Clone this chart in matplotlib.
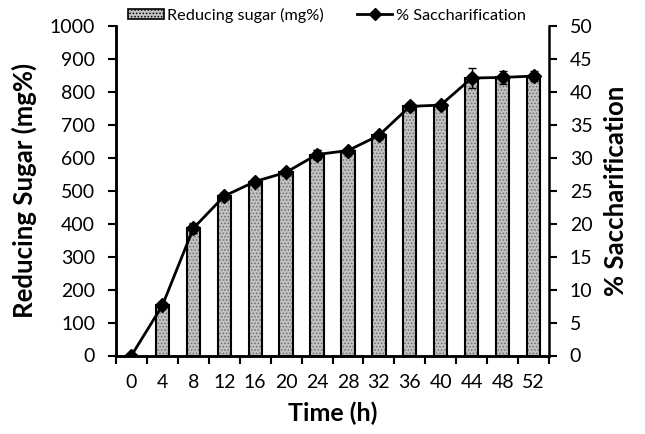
import matplotlib.pyplot as plt
import numpy as np
from matplotlib.patches import Patch
from matplotlib.lines import Line2D

plt.rcParams['font.family'] = ['Lato', 'DejaVu Sans']
plt.rcParams['hatch.linewidth'] = 0.7

# Data
time_h = [0, 4, 8, 12, 16, 20, 24, 28, 32, 36, 40, 44, 48, 52]
sugar = [0, 152, 387, 483, 528, 557, 610, 622, 668, 756, 760, 842, 845, 848]
sugar_err = [0, 5, 15, 10, 8, 8, 15, 8, 8, 10, 5, 10, 8, 8]
sacch = [0, 7.6, 19.3, 24.2, 26.4, 27.8, 30.5, 31.1, 33.4, 37.8, 38.0, 42.1, 42.2, 42.4]
sacch_err = [0, 0.3, 0.7, 0.4, 0.4, 0.4, 0.7, 0.3, 0.4, 0.5, 0.3, 1.5, 1.0, 0.7]

x = np.arange(len(time_h))

fig = plt.figure(figsize=(6.45, 4.34), dpi=100)
ax = fig.add_axes([116/645, 1 - 355.5/434, (549-116)/645, (355.5-26)/434])

# Bars: stippled fill, then black outline with error bars
ax.bar(x, sugar, width=0.43, color='#c2c2c2', edgecolor='#6e6e6e', hatch='.....', linewidth=0)
ax.bar(x, sugar, width=0.43, fill=False, edgecolor='black', linewidth=1.5,
       yerr=sugar_err, error_kw=dict(ecolor='black', elinewidth=1, capsize=3))
ax.set_xlim(-0.5, len(x) - 0.5)
ax.set_ylim(0, 1000)
ax.set_yticks(range(0, 1001, 100))
ax.set_xticks(x)
ax.set_xticklabels(time_h)
ax.set_xticks(np.arange(-0.5, len(x), 1), minor=True)
ax.tick_params(axis='x', which='major', length=0, labelsize=14, pad=13)
ax.tick_params(axis='x', which='minor', length=6, width=1.5, direction='out')
ax.tick_params(axis='y', length=6, width=1.5, labelsize=14, pad=9)
ax.set_xlabel('Time (h)', fontsize=18, fontweight='bold', labelpad=8)
ax.set_ylabel('Reducing Sugar (mg%)', fontsize=18.5, fontweight='bold', labelpad=9)

# Line on right axis
ax2 = ax.twinx()
ax2.errorbar(x, sacch, yerr=sacch_err, color='black', linewidth=2, marker='D',
             markersize=7, ecolor='black', elinewidth=1, capsize=3)
ax2.set_ylim(0, 50)
ax2.set_yticks(range(0, 51, 5))
ax2.tick_params(axis='y', length=6, width=1.5, labelsize=14, pad=9)
ax2.set_ylabel('% Saccharification', fontsize=18.5, fontweight='bold', labelpad=8)

for a in (ax, ax2):
    a.spines['top'].set_visible(False)
    for s in ('left', 'right', 'bottom'):
        a.spines[s].set_linewidth(1.8)
ax.spines['right'].set_visible(False)

handles = [Patch(facecolor='#c2c2c2', edgecolor='black', linewidth=1.2, hatch='.....'),
           Line2D([0], [0], color='black', linewidth=2, marker='D', markersize=6)]
fig.legend(handles, ['Reducing sugar (mg%)', '% Saccharification'], loc='center',
           bbox_to_anchor=(327/645, 1 - 15/434), ncol=2, frameon=False, fontsize=11.7,
           handlelength=2.2, handleheight=0.6, columnspacing=2.0, handletextpad=0.2)

fig.savefig('out.png', dpi=100)
